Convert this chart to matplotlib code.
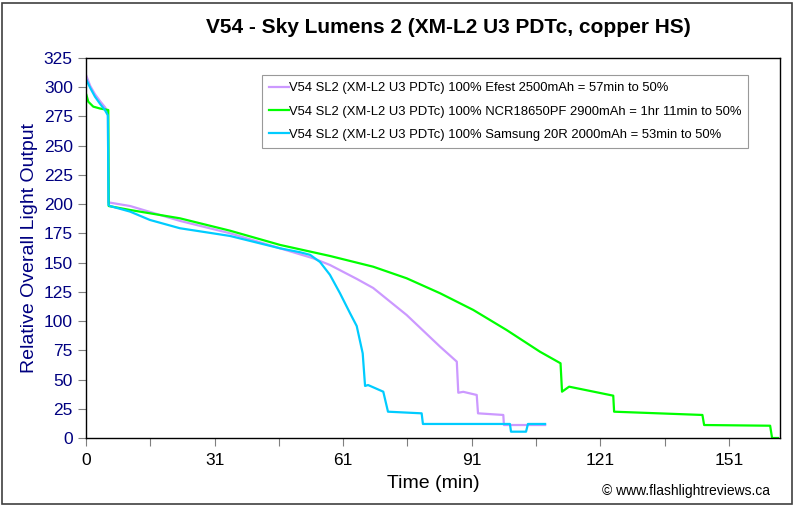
import matplotlib
matplotlib.use("Agg")
import matplotlib.pyplot as plt
from matplotlib.patches import Rectangle

plt.rcParams['font.family'] = ['Liberation Sans', 'DejaVu Sans']

# ---- data (minutes, relative output) ----
efest_t = [0.1, 1.0, 2.1, 3.3, 4.4, 5.1, 5.25, 5.6, 10.3, 21.9, 33.6, 45.3, 53.0, 56.9, 63.2, 67.0,
           74.8, 82.6, 86.5, 86.85, 88.0, 91.15, 91.45, 97.35, 97.5, 107.1]
efest_v = [309.6, 301.0, 294.0, 288.0, 283.0, 279.0, 201.3, 201.3, 198.4, 185.7, 175.1, 162.2, 153.7, 148.0,
           136.0, 128.3, 105.2, 78.1, 65.3, 38.7, 39.5, 36.8, 21.1, 19.7, 11.1, 11.1]

ncr_t = [0.1, 0.54, 1.7, 3.27, 5.2, 5.3, 10.3, 21.9, 33.6, 45.3, 56.9, 67.0, 74.8, 82.6, 90.35, 98.1,
         105.9, 110.7, 111.05, 112.7, 123.0, 123.2, 143.8, 144.2, 159.6, 160.05, 161.4]
ncr_v = [293.4, 287.6, 283.4, 281.8, 280.5, 198.4, 195.0, 187.9, 177.3, 165.1, 155.7, 146.5, 136.6, 123.8,
         109.5, 92.4, 73.8, 63.9, 39.6, 43.9, 36.2, 22.5, 19.7, 11.1, 10.5, 0.0, 0.0]

sam_t = [0.1, 1.0, 2.1, 3.3, 4.4, 5.1, 5.25, 5.6, 10.3, 14.9, 21.9, 33.6, 45.3, 49.9, 52.3, 54.6, 56.9,
         59.25, 61.6, 63.15, 64.55, 65.1, 65.8, 69.35, 70.45, 78.3, 78.6, 98.9, 99.15, 102.65, 103.1, 107.1]
sam_v = [306.2, 299.3, 291.9, 285.7, 280.5, 276.0, 199.3, 198.4, 193.6, 186.5, 179.4, 172.8, 162.2, 158.9,
         156.6, 150.5, 139.6, 123.8, 106.7, 95.8, 72.4, 44.5, 45.3, 39.6, 22.5, 21.1, 12.0, 12.0, 5.4, 5.4,
         12.0, 12.0]

labels = ["V54 SL2 (XM-L2 U3 PDTc) 100% Efest 2500mAh = 57min to 50%",
          "V54 SL2 (XM-L2 U3 PDTc) 100% NCR18650PF 2900mAh = 1hr 11min to 50%",
          "V54 SL2 (XM-L2 U3 PDTc) 100% Samsung 20R 2000mAh = 53min to 50%"]
colors = ["#CC99FF", "#00FF00", "#00CCFF"]

xtick_pos = [0, 30, 60, 90, 120, 150]
xtick_labels = ["0", "31", "61", "91", "121", "151"]
yticks = list(range(0, 326, 25))

fig = plt.figure(figsize=(8, 5.07), dpi=100)
fig.patch.set_facecolor("white")
ax = fig.add_axes([0.1075, 0.1361, 0.8675, 0.7495])

for t, v, c, l in zip([efest_t, ncr_t, sam_t], [efest_v, ncr_v, sam_v], colors, labels):
    ax.plot(t, v, color=c, lw=1.6, label=l, solid_joinstyle='round')

ax.set_xlim(0, 161.9)
ax.set_ylim(0, 325)
ax.set_xticks(xtick_pos)
ax.set_xticklabels(xtick_labels, fontsize=12.5)
ax.set_xticks([15, 45, 75, 105, 135], minor=True)
ax.set_yticks(yticks)
ax.set_yticklabels([str(y) for y in yticks], fontsize=12.5, color="#000080")
ax.tick_params(axis='both', which='both', direction='out', length=5.5, width=0.8, color='#808080')
ax.tick_params(axis='x', pad=5)
ax.tick_params(axis='y', pad=4)
for s in ax.spines.values():
    s.set_color("black")
    s.set_linewidth(1.0)

ax.set_xlabel("Time (min)", fontsize=14, labelpad=5)
ax.set_ylabel("Relative Overall Light Output", fontsize=14, color="#000080", labelpad=4)
fig.text(0.56, 0.945, "V54 - Sky Lumens 2 (XM-L2 U3 PDTc, copper HS)", ha='center', va='center',
         fontsize=15, fontweight='bold')
fig.text(0.963, 0.031, "\u00a9 www.flashlightreviews.ca", ha='right', va='center', fontsize=10)

leg = ax.legend(loc='upper left', bbox_to_anchor=(0.2536, 0.955), fontsize=9.4, frameon=True,
                fancybox=False, edgecolor="#808080", handlelength=1.5, handletextpad=0.0,
                borderpad=0.55, labelspacing=0.85, borderaxespad=0.0)
leg.get_frame().set_linewidth(0.8)

fig.patches.append(Rectangle((0.003, 0.006), 0.987, 0.988, transform=fig.transFigure,
                             fill=False, edgecolor="#404040", lw=1.2))

fig.savefig("out.png", dpi=100)
